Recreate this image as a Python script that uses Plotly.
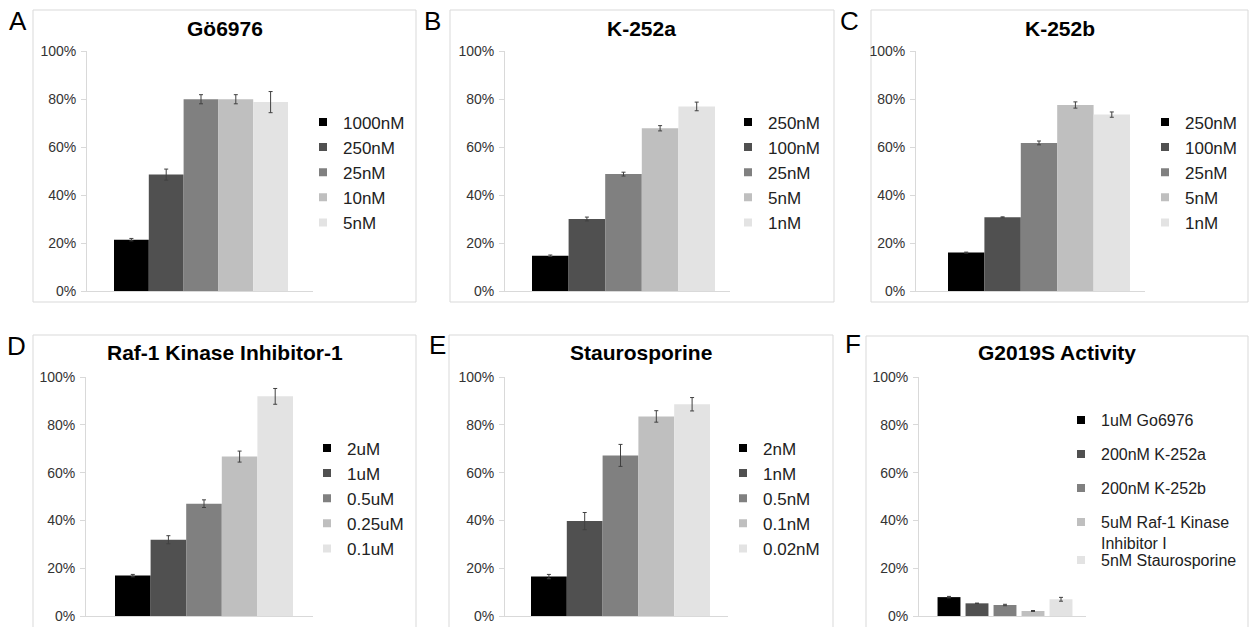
import plotly.graph_objects as go

# ---------------- data ----------------
panel_letters = ["A", "B", "C", "D", "E", "F"]
panel_titles = ["Gö6976", "K-252a", "K-252b", "Raf-1 Kinase Inhibitor-1",
                "Staurosporine", "G2019S Activity"]

doses_a = ["1000nM", "250nM", "25nM", "10nM", "5nM"]
values_a = [0.214, 0.485, 0.799, 0.799, 0.787]
errors_a = [0.005, 0.023, 0.019, 0.019, 0.044]

doses_b = ["250nM", "100nM", "25nM", "5nM", "1nM"]
values_b = [0.147, 0.300, 0.487, 0.678, 0.769]
errors_b = [0.003, 0.008, 0.008, 0.011, 0.018]

doses_c = ["250nM", "100nM", "25nM", "5nM", "1nM"]
values_c = [0.160, 0.307, 0.617, 0.775, 0.735]
errors_c = [0.002, 0.002, 0.008, 0.013, 0.011]

doses_d = ["2uM", "1uM", "0.5uM", "0.25uM", "0.1uM"]
values_d = [0.169, 0.319, 0.470, 0.667, 0.919]
errors_d = [0.005, 0.017, 0.016, 0.023, 0.033]

doses_e = ["2nM", "1nM", "0.5nM", "0.1nM", "0.02nM"]
values_e = [0.165, 0.397, 0.672, 0.835, 0.886]
errors_e = [0.009, 0.036, 0.046, 0.024, 0.028]

doses_f = ["1uM Go6976", "200nM K-252a", "200nM K-252b",
           "5uM Raf-1 Kinase<br>Inhibitor I", "5nM Staurosporine"]
values_f = [0.079, 0.053, 0.046, 0.021, 0.070]
errors_f = [0.003, 0.001, 0.003, 0.002, 0.008]

y_ticks = [0, 0.2, 0.4, 0.6, 0.8, 1.0]

# ---------------- style / layout ----------------
W, H = 1257, 627
FONT = "Liberation Sans, Arial, sans-serif"
bar_colors = ["#000000", "#505050", "#808080", "#bfbfbf", "#e3e3e3"]
frame_color = "#d9d9d9"
err_color = "#404040"


def px(p):
    return p / W


def py(p):
    return 1 - p / H


def xrange_for(d0, d1, left, right):
    s = (right - left) / 0.8
    return [-0.4 - (left - d0) / s, 0.4 + (d1 - right) / s]


geom = [
    dict(box=(33, 10, 416, 302), ax=(87, 313), ay=(51, 291), bars=(114, 288),
         leg=(343, 122), letter=(18, 21), title=(224.5, 28), lfs=17),
    dict(box=(450, 10, 834, 302), ax=(505, 730), ay=(51, 291), bars=(532, 715),
         leg=(768, 122), letter=(432.5, 21), title=(642, 28), lfs=17),
    dict(box=(871, 10, 1248, 302), ax=(916, 1145), ay=(51, 291), bars=(948, 1130),
         leg=(1185, 122), letter=(849.5, 21), title=(1059.5, 28), lfs=17),
    dict(box=(33, 335, 416, 660), ax=(86, 313), ay=(377, 616), bars=(115, 293),
         leg=(347, 448), letter=(16, 346), title=(224.5, 352), lfs=17),
    dict(box=(449, 335, 833, 660), ax=(505, 728), ay=(377, 616), bars=(531, 710),
         leg=(763, 448), letter=(437, 345), title=(641, 352), lfs=17),
    dict(box=(866, 336, 1248, 660), ax=(919, 1086), ay=(377, 616), bars=(935, 1075),
         leg=(1101, 420), letter=(852.5, 344), title=(1057, 352), lfs=16),
]

series = [
    (doses_a, values_a, errors_a),
    (doses_b, values_b, errors_b),
    (doses_c, values_c, errors_c),
    (doses_d, values_d, errors_d),
    (doses_e, values_e, errors_e),
    (doses_f, values_f, errors_f),
]

fig = go.Figure()
layout = dict(
    template="none",
    width=W, height=H, autosize=False,
    margin=dict(l=0, r=0, t=0, b=0, pad=0, autoexpand=False),
    paper_bgcolor="white", plot_bgcolor="white",
    barmode="group", bargap=0.2, bargroupgap=0,
    font=dict(family=FONT, color="#222222"),
    showlegend=True, hovermode=False,
)
shapes = []
annotations = []

for i, ((names, vals, errs), g) in enumerate(zip(series, geom)):
    k = i + 1
    xa = "x" if k == 1 else f"x{k}"
    ya = "y" if k == 1 else f"y{k}"
    leg_name = "legend" if k == 1 else f"legend{k}"
    is_f = (k == 6)

    for j, (name, v, e) in enumerate(zip(names, vals, errs)):
        bar_kw = {}
        if is_f:
            bar_kw["width"] = 0.131
        fig.add_trace(go.Bar(
            x=[0], y=[v], name=name, xaxis=xa, yaxis=ya,
            marker=dict(color=bar_colors[j], line=dict(width=0)),
            error_y=dict(type="data", array=[e], visible=True,
                         color=err_color, thickness=1, width=2),
            showlegend=False, **bar_kw))
        this_leg = leg_name
        if is_f and j == 4:
            this_leg = "legend7"
        fig.add_trace(go.Scatter(
            x=[None], y=[None], mode="markers", name=name, xaxis=xa, yaxis=ya,
            marker=dict(symbol="square", size=8, color=bar_colors[j]),
            legend=this_leg, legendgroup=f"p{k}_{j}", showlegend=True))

    d0, d1 = g["ax"]
    top, bot = g["ay"]
    layout["xaxis" if k == 1 else f"xaxis{k}"] = dict(
        domain=[px(d0), px(d1)], anchor=ya,
        range=xrange_for(d0, d1, *g["bars"]),
        showline=True, linecolor=frame_color, linewidth=1,
        showticklabels=False, ticks="", showgrid=False, zeroline=False,
        automargin=False, fixedrange=True)
    layout["yaxis" if k == 1 else f"yaxis{k}"] = dict(
        domain=[py(bot), py(top)], anchor=xa, range=[0, 1],
        tickvals=y_ticks, tickformat=".0%",
        showline=True, linecolor=frame_color, linewidth=1,
        ticks="outside", ticklen=5, tickcolor=frame_color, tickwidth=1,
        ticklabelstandoff=2,
        tickfont=dict(family=FONT, size=14, color="#333333"),
        showgrid=False, zeroline=False, automargin=False, fixedrange=True)

    fs = g["lfs"]
    h_item = 1.3 * fs + 3
    tx, cy = g["leg"]
    leg_cfg = dict(
        x=px(tx - 40), y=py(cy - 5 - h_item / 2), xanchor="left", yanchor="top",
        xref="paper", yref="paper",
        bgcolor="rgba(0,0,0,0)", borderwidth=0,
        font=dict(family=FONT, size=fs, color="#222222"),
        itemwidth=30, itemclick=False, itemdoubleclick=False,
        tracegroupgap=0)
    if is_f:
        leg_cfg["tracegroupgap"] = 34 - h_item
        leg_cfg["valign"] = "top"
        layout["legend7"] = dict(leg_cfg, y=py(560 - 5 - h_item / 2))
    layout[leg_name] = leg_cfg

    x0, y0, x1, y1 = g["box"]
    shapes.append(dict(type="rect", xref="paper", yref="paper",
                       x0=px(x0), x1=px(x1), y0=py(y1), y1=py(y0),
                       line=dict(color=frame_color, width=1),
                       fillcolor="rgba(0,0,0,0)", layer="below"))
    lx, ly = g["letter"]
    annotations.append(dict(text=panel_letters[i], xref="paper", yref="paper",
                            x=px(lx), y=py(ly), xanchor="center", yanchor="middle",
                            showarrow=False,
                            font=dict(family=FONT, size=26, color="#000000")))
    tx_, ty_ = g["title"]
    annotations.append(dict(text="<b>" + panel_titles[i] + "</b>", xref="paper", yref="paper",
                            x=px(tx_), y=py(ty_), xanchor="center", yanchor="middle",
                            showarrow=False,
                            font=dict(family=FONT, size=21, color="#000000")))

layout["shapes"] = shapes
layout["annotations"] = annotations
fig.update_layout(**layout)

fig.write_html("out.html", config={"displayModeBar": False, "staticPlot": True},
               post_script="document.body.style.margin='0';")
